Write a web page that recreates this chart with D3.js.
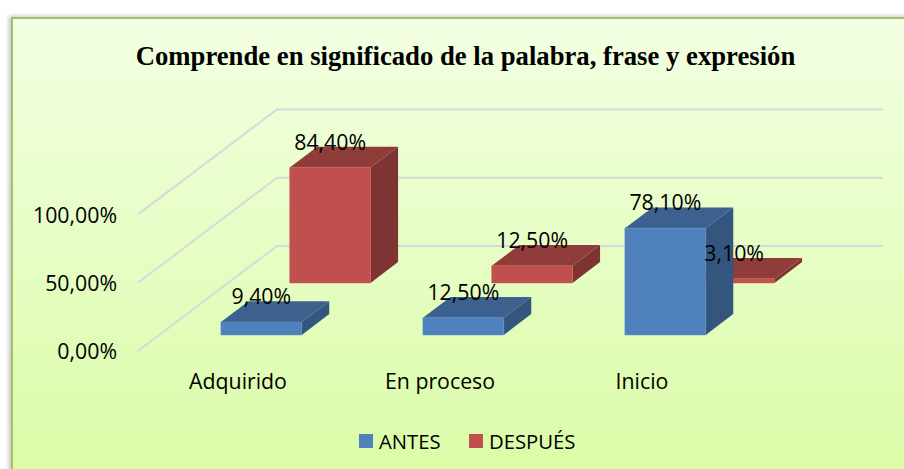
<!DOCTYPE html>
<html>
<head>
	<title>Comprende en significado</title>
	<meta charset="utf-8">
	<script src="https://d3js.org/d3.v7.min.js"></script>
	<style>
	html, body{
		margin: 0;
		padding: 0;
		background: #fff;
		overflow: hidden;
	}
	text{
		font-family: "Open Sans", sans-serif;
		fill: #000;
	}
	</style>
</head>
<body>
<svg id="chart" width="904" height="469"></svg>
<script>
var categories = ["Adquirido", "En proceso", "Inicio"];
var seriesNames = ["ANTES", "DESPUÉS"];
var antes = [0.094, 0.125, 0.781];
var despues = [0.844, 0.125, 0.031];
var axisTicks = [0, 0.5, 1];
var titleText = "Comprende en significado de la palabra, frase y expresión";

var colors = {
	"ANTES": {front: "#4f81bd", top: "#3c618e", side: "#33557e", edge: "#5b8cc6"},
	"DESPUÉS": {front: "#c0504d", top: "#903c3a", side: "#7e3432", edge: "#c95f5c"}
};

var svg = d3.select("#chart");

var defs = svg.append("defs");
var grad = defs.append("linearGradient").attr("id", "bg")
	.attr("x1", 0).attr("y1", 0).attr("x2", 0).attr("y2", 1);
grad.append("stop").attr("offset", "0%").attr("stop-color", "#f3ffe3");
grad.append("stop").attr("offset", "100%").attr("stop-color", "#d9fca5");
var blur = defs.append("filter").attr("id", "shadow")
	.attr("x", "-2%").attr("y", "-2%").attr("width", "104%").attr("height", "104%");
blur.append("feGaussianBlur").attr("stdDeviation", 2);

// frame
svg.append("rect").attr("x", 9).attr("y", 16).attr("width", 920).attr("height", 480)
	.attr("fill", "#999").attr("opacity", 0.6).attr("filter", "url(#shadow)");
svg.append("rect").attr("x", 12).attr("y", 18).attr("width", 920).attr("height", 470)
	.attr("fill", "url(#bg)").attr("stroke", "#a3c267").attr("stroke-width", 2);

// projection: x along the front edge, y up the value axis, depth goes back and right
var x = d3.scaleBand().domain(categories).range([139, 745]).paddingInner(0.6).paddingOuter(0.3);
var y = d3.scaleLinear().domain([0, 1]).range([351, 214.4]);
var depth = d3.scaleBand().domain(seriesNames).range([0, 1]).paddingInner(0.6).paddingOuter(0.31);
var depthX = 139, depthY = -105;
var gridLeft = 138, gridRight = 744;

function project(px, v, d) {
	return [px + d * depthX, y(v) + d * depthY];
}
var line = d3.line();

// gridlines
svg.append("g").selectAll("path").data(axisTicks).join("path")
	.attr("d", function(t) {
		return line([project(gridLeft, t, 0), project(gridLeft, t, 1), project(gridRight, t, 1)]);
	})
	.attr("fill", "none")
	.attr("stroke", "#d9d9d9")
	.attr("stroke-width", 2);

// value axis
var axisG = svg.append("g").attr("transform", "translate(117,0)")
	.call(d3.axisLeft(y).tickValues(axisTicks).tickSize(0).tickPadding(0)
		.tickFormat(function(t) { return d3.format(".2f")(t * 100).replace(".", ",") + "%"; }));
axisG.select(".domain").remove();
axisG.selectAll("text").attr("font-size", 21.3).style("font-family", '"Open Sans", sans-serif').attr("dy", "0.36em");

// category labels
svg.append("g").selectAll("text").data(categories).join("text")
	.attr("x", function(c) { return x(c) + x.bandwidth() / 2 - 2; })
	.attr("y", 389)
	.attr("text-anchor", "middle")
	.attr("font-size", 21.3)
	.text(function(c) { return c; });

// bars, back series first
var rows = [];
seriesNames.forEach(function(s, si) {
	var vals = si == 0 ? antes : despues;
	categories.forEach(function(c, i) {
		rows.push({series: s, cat: c, value: vals[i]});
	});
});
var drawOrder = rows.slice().sort(function(a, b) {
	return seriesNames.indexOf(b.series) - seriesNames.indexOf(a.series);
});

var bars = svg.append("g").selectAll("g").data(drawOrder).join("g");

function corners(d) {
	var x0 = x(d.cat), x1 = x0 + x.bandwidth();
	var d0 = depth(d.series), d1 = d0 + depth.bandwidth();
	return {
		fb: project(x0, 0, d0), fr: project(x1, 0, d0),
		ft: project(x0, d.value, d0), frt: project(x1, d.value, d0),
		bt: project(x0, d.value, d1), brt: project(x1, d.value, d1),
		bb: project(x1, 0, d1)
	};
}

bars.append("path")
	.attr("d", function(d) { var c = corners(d); return line([c.fr, c.frt, c.brt, c.bb]) + "Z"; })
	.attr("fill", function(d) { return colors[d.series].side; });
bars.append("path")
	.attr("d", function(d) { var c = corners(d); return line([c.ft, c.frt, c.brt, c.bt]) + "Z"; })
	.attr("fill", function(d) { return colors[d.series].top; });
bars.append("path")
	.attr("d", function(d) { var c = corners(d); return line([c.fb, c.fr, c.frt, c.ft]) + "Z"; })
	.attr("fill", function(d) { return colors[d.series].front; })
	.attr("stroke", function(d) { return colors[d.series].edge; })
	.attr("stroke-width", 0.6);

// value labels go over every bar
svg.append("g").selectAll("text").data(rows).join("text")
	.attr("x", function(d) { return x(d.cat) + depth(d.series) * depthX + x.bandwidth() / 2; })
	.attr("y", function(d) { return project(0, d.value, depth(d.series))[1] - 18; })
	.attr("text-anchor", "middle")
	.attr("font-size", 21.3)
	.text(function(d) { return d3.format(".2f")(d.value * 100).replace(".", ",") + "%"; });

// title
svg.append("text")
	.attr("x", 465.5)
	.attr("y", 65)
	.attr("text-anchor", "middle")
	.attr("font-size", 26.7)
	.attr("font-weight", "bold")
	.style("font-family", '"Liberation Serif", serif')
	.text(titleText);

// legend
var legendX = d3.scaleOrdinal().domain(seriesNames).range([359, 469]);
var legend = svg.append("g").selectAll("g").data(seriesNames).join("g")
	.attr("transform", function(s) { return "translate(" + legendX(s) + ",434)"; });
legend.append("rect").attr("width", 14).attr("height", 14)
	.attr("fill", function(s) { return colors[s].front; });
legend.append("text").attr("x", 20).attr("y", 14.5).attr("font-size", 20.3)
	.text(function(s) { return s; });
</script>
</body>
</html>
